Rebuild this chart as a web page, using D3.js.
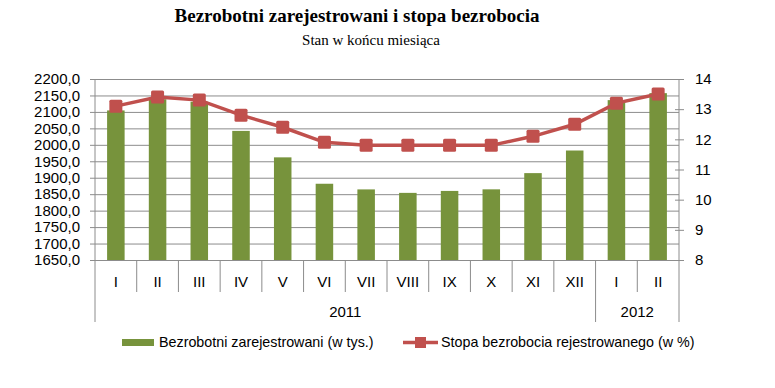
<!DOCTYPE html>
<html>
<head>
<meta charset="utf-8">
<script src="https://cdn.jsdelivr.net/npm/d3@7"></script>
<style>
  body { margin: 0; background: #fff; }
  svg text { font-family: "Liberation Sans", Arial, sans-serif; fill: #000; }
  .title { font-family: "Liberation Serif", "Times New Roman", serif; }
</style>
</head>
<body>
<div id="chart"></div>
<script>
// data
const months = ["I", "II", "III", "IV", "V", "VI", "VII", "VIII", "IX", "X", "XI", "XII", "I", "II"];
const years = [{label: "2011", from: 0, to: 12}, {label: "2012", from: 12, to: 14}];
const unemployed = [2104.5, 2138.6, 2131.0, 2042.3, 1961.9, 1881.7, 1864.5, 1854.0, 1859.9, 1864.7, 1914.0, 1982.7, 2135.8, 2157.0];
const rate = [13.1, 13.4, 13.3, 12.8, 12.4, 11.9, 11.8, 11.8, 11.8, 11.8, 12.1, 12.5, 13.2, 13.5];
const leftTicks = [1650, 1700, 1750, 1800, 1850, 1900, 1950, 2000, 2050, 2100, 2150, 2200];
const rightTicks = [8, 9, 10, 11, 12, 13, 14];

const width = 775, height = 388;
const plot = {left: 95, right: 679, top: 79, bottom: 260};
const green = "#77933C", red = "#C0504D", grid = "#8c8c8c";

const svg = d3.select("#chart")
    .append("svg")
    .attr("width", width)
    .attr("height", height);

// titles
svg.append("text")
    .attr("class", "title")
    .attr("x", 357).attr("y", 22)
    .attr("text-anchor", "middle")
    .style("font-size", "19px").style("font-weight", "bold")
    .text("Bezrobotni zarejestrowani i stopa bezrobocia");
svg.append("text")
    .attr("class", "title")
    .attr("x", 371).attr("y", 45)
    .attr("text-anchor", "middle")
    .style("font-size", "15px")
    .text("Stan w końcu miesiąca");

const idx = d3.range(months.length);
const x = d3.scaleBand()
    .domain(idx)
    .range([plot.left, plot.right])
    .paddingInner(0.58)
    .paddingOuter(0.29);
const step = x.step();
const cx = i => x(i) + x.bandwidth() / 2;

const y = d3.scaleLinear().domain([1650, 2200]).range([plot.bottom, plot.top]);
const y2 = d3.scaleLinear().domain([8, 14]).range([plot.bottom, plot.top]);

// gridlines + left axis
const yAxis = svg.append("g")
    .attr("transform", "translate(" + plot.left + ",0)")
    .call(d3.axisLeft(y).tickValues(leftTicks).tickSize(5)
        .tickFormat(d => d3.format(".1f")(d).replace(".", ",")));
yAxis.select(".domain").remove();
yAxis.selectAll(".tick line").attr("x2", plot.right - plot.left).attr("x1", -5).attr("stroke", grid);
yAxis.selectAll("text").attr("x", -15).style("font-size", "15px").attr("fill", "#000");

svg.append("line")
    .attr("x1", plot.left).attr("x2", plot.left)
    .attr("y1", plot.top).attr("y2", 322)
    .attr("stroke", grid);

// right axis
const yAxis2 = svg.append("g")
    .attr("transform", "translate(" + plot.right + ",0)")
    .call(d3.axisRight(y2).tickValues(rightTicks).tickSize(5).tickFormat(d3.format("d")));
yAxis2.select(".domain").remove();
yAxis2.selectAll(".tick line").attr("x1", -4).attr("x2", 5).attr("stroke", grid);
yAxis2.selectAll("text").attr("x", 16).style("font-size", "15px").attr("fill", "#000");
svg.append("line")
    .attr("x1", plot.right).attr("x2", plot.right)
    .attr("y1", plot.top).attr("y2", 322)
    .attr("stroke", grid);

// bars
svg.append("g")
    .selectAll("rect")
    .data(unemployed)
    .join("rect")
        .attr("x", (d, i) => x(i))
        .attr("width", x.bandwidth())
        .attr("y", d => y(d))
        .attr("height", d => plot.bottom - y(d))
        .attr("fill", green);

// category axis: month separators and labels
const bounds = d3.range(1, months.length).filter(i => !years.some(yr => yr.from === i));
svg.append("g")
    .selectAll("line")
    .data(bounds)
    .join("line")
        .attr("x1", i => plot.left + i * step).attr("x2", i => plot.left + i * step)
        .attr("y1", plot.bottom).attr("y2", 292)
        .attr("stroke", grid);
svg.append("g")
    .selectAll("line")
    .data(years.filter(yr => yr.from > 0))
    .join("line")
        .attr("x1", yr => plot.left + yr.from * step).attr("x2", yr => plot.left + yr.from * step)
        .attr("y1", plot.bottom).attr("y2", 322)
        .attr("stroke", grid);
svg.append("g")
    .selectAll("text")
    .data(months)
    .join("text")
        .attr("x", (d, i) => cx(i))
        .attr("y", 287)
        .attr("text-anchor", "middle")
        .style("font-size", "15px")
        .text(d => d);
svg.append("g")
    .selectAll("text")
    .data(years)
    .join("text")
        .attr("x", yr => plot.left + (yr.from + yr.to) / 2 * step)
        .attr("y", 317)
        .attr("text-anchor", "middle")
        .style("font-size", "15px")
        .text(yr => yr.label);

// rate line
const line = d3.line()
    .x((d, i) => cx(i))
    .y(d => y2(d));
svg.append("path")
    .datum(rate)
    .attr("d", line)
    .attr("fill", "none")
    .attr("stroke", red)
    .attr("stroke-width", 3.5);
svg.append("g")
    .selectAll("rect")
    .data(rate)
    .join("rect")
        .attr("x", (d, i) => cx(i) - 6.5)
        .attr("y", d => y2(d) - 6.5)
        .attr("width", 13).attr("height", 13)
        .attr("rx", 1.5)
        .attr("fill", red);

// legend
const lg = svg.append("g");
lg.append("rect")
    .attr("x", 122).attr("y", 339)
    .attr("width", 32).attr("height", 7)
    .attr("fill", green);
lg.append("text")
    .attr("x", 159).attr("y", 347)
    .style("font-size", "14.3px")
    .text("Bezrobotni zarejestrowani (w tys.)");
lg.append("line")
    .attr("x1", 403).attr("x2", 438)
    .attr("y1", 342.5).attr("y2", 342.5)
    .attr("stroke", red).attr("stroke-width", 3.5);
lg.append("rect")
    .attr("x", 415).attr("y", 337)
    .attr("width", 11).attr("height", 11)
    .attr("fill", red);
lg.append("text")
    .attr("x", 441).attr("y", 347)
    .style("font-size", "14.3px")
    .text("Stopa bezrobocia rejestrowanego (w %)");
</script>
</body>
</html>
